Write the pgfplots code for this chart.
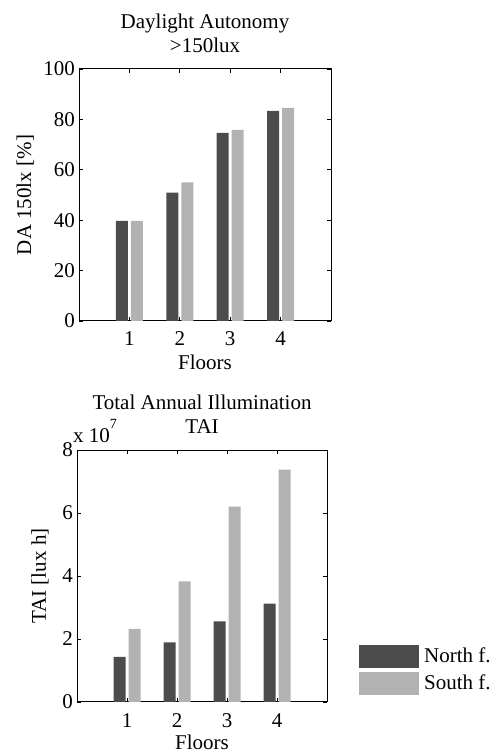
\documentclass[border=0pt]{standalone}
\usepackage{fontspec}
\setmainfont{Liberation Serif}
\usepackage{pgfplots}
\pgfplotsset{compat=1.18}
\definecolor{northc}{gray}{0.30}
\definecolor{southc}{gray}{0.70}
\pgfplotsset{
  myax/.style={
    scale only axis,
    height=252pt,
    xmin=0, xmax=5, xtick={1,2,3,4},
    ybar=3pt, bar width=12pt,
    tick align=inside, major tick length=4pt,
    xtick pos=both, ytick pos=both,
    axis line style={line width=1pt},
    tick style={line width=0.8pt, black},
    /pgf/number format/assume math mode=true,
    xticklabel style={anchor=base, yshift=-25pt, inner sep=0pt},
    yticklabel style={anchor=east, inner sep=0pt, xshift=-4pt},
    xlabel style={at={(axis description cs:0.5,0)}, anchor=base, yshift=-49pt, inner sep=0pt},
    title style={align=center, at={(axis description cs:0.5,1)}, anchor=south, yshift=10pt, inner sep=0pt},
  },
  ytick scale label code/.code={x 10\raisebox{14pt}{\fontsize{14}{14}\selectfont #1}},
  every y tick scale label/.style={at={(axis description cs:0,1)}, anchor=base west, yshift=8pt, inner sep=0pt},
}
\begin{document}
\fontsize{21}{24.5}\selectfont
\begin{tikzpicture}
\path[use as bounding box] (0pt,0pt) rectangle (494pt,754pt);
% top axis
\begin{axis}[myax, width=252pt, at={(79pt,433pt)}, anchor=south west,
  ymin=0, ymax=100, ytick={0,20,40,60,80,100},
  title={Daylight Autonomy\\>150lux},
  xlabel={Floors},
  ylabel={DA 150lx [\%]},
  ylabel style={at={(axis description cs:-0.19,0.5)}, anchor=base, inner sep=0pt},
]
\addplot[fill=northc, draw=none] coordinates {(1,39.7) (2,50.9) (3,74.6) (4,83.4)};
\addplot[fill=southc, draw=none] coordinates {(1,39.7) (2,55.0) (3,75.8) (4,84.6)};
\end{axis}
% bottom axis
\begin{axis}[myax, width=250pt, at={(77pt,52pt)}, anchor=south west,
  ymin=0, ymax=8e7, ytick={0,2e7,4e7,6e7,8e7},
  scaled y ticks=base 10:-7,
  title={Total Annual Illumination\\TAI},
  xlabel={Floors},
  xlabel style={yshift=2pt},
  ylabel={TAI [lux h]},
  ylabel style={at={(axis description cs:-0.125,0.5)}, anchor=base, inner sep=0pt},
  legend style={at={(axis description cs:1.128,0.226)}, anchor=north west, draw=none, fill=none, inner sep=0pt, row sep=4pt, column sep=3pt, nodes={inner sep=2pt}},
  legend cell align=left,
]
\addplot[fill=northc, draw=none, legend image code/.code={\fill[northc] (0pt,-11.5pt) rectangle (60pt,11.5pt);}] coordinates {(1,1.43e7) (2,1.89e7) (3,2.56e7) (4,3.12e7)};
\addplot[fill=southc, draw=none, legend image code/.code={\fill[southc] (0pt,-11.5pt) rectangle (60pt,11.5pt);}] coordinates {(1,2.32e7) (2,3.83e7) (3,6.20e7) (4,7.38e7)};
\legend{North f., South f.}
\end{axis}
\end{tikzpicture}
\end{document}
